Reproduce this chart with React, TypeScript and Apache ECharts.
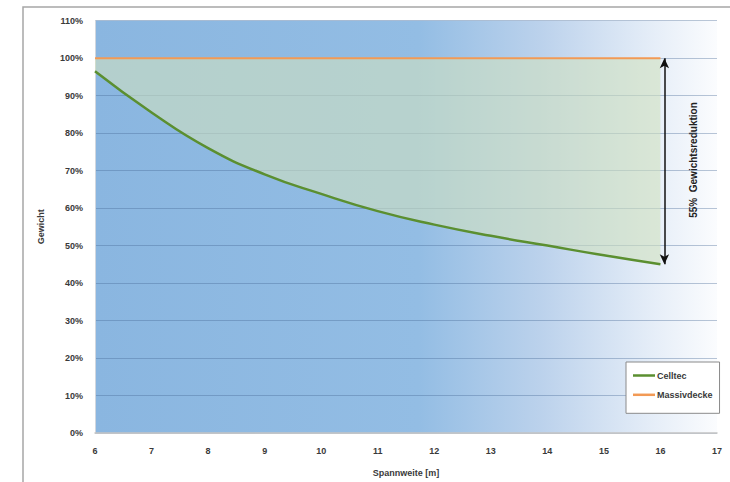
import React, { useEffect, useRef } from "react";
import * as echarts from "echarts";

const spans = [6, 7, 8, 9, 10, 11, 12, 13, 14, 15, 16];
const celltec = [96.5, 85.5, 76, 69, 63.8, 59.2, 55.6, 52.6, 50, 47.4, 45];
const massivdecke = [100, 100, 100, 100, 100, 100, 100, 100, 100, 100, 100];
const yTicks = { min: 0, max: 110, interval: 10 };
const xTicks = { min: 6, max: 17, interval: 1 };
const arrowX = 16.07;
const arrowFrom = 100;
const arrowTo = 45;
const annotation = "55%  Gewichtsreduktion";

const FONT = "Liberation Sans";
const TXT = "#3a3a3a";

export default function App() {
  const ref = useRef<HTMLDivElement>(null);

  useEffect(() => {
    if (!ref.current) return;
    const chart = echarts.init(ref.current, undefined, { renderer: "svg" });
    const pairs = (ys: number[]) => spans.map((x, i) => [x, ys[i]]);

    chart.setOption({
      animation: false,
      backgroundColor: "#ffffff",
      grid: {
        left: 95,
        right: 13,
        top: 20.7,
        bottom: 44.3,
        show: true,
        borderWidth: 0,
        backgroundColor: new echarts.graphic.LinearGradient(0, 0, 1, 0, [
          { offset: 0, color: "#8ab6e0" },
          { offset: 0.52, color: "#93bde4" },
          { offset: 0.72, color: "#bcd2ec" },
          { offset: 0.9, color: "#e6eef8" },
          { offset: 1, color: "#fbfcfe" },
        ]),
      },
      legend: {
        data: [
          { name: "Celltec", icon: "rect" },
          { name: "Massivdecke", icon: "rect" },
        ],
        orient: "vertical",
        left: 626,
        top: 362,
        itemWidth: 22,
        itemHeight: 2.5,
        itemGap: 8.3,
        padding: [8, 7, 13, 7],
        backgroundColor: "#ffffff",
        borderColor: "#8a8a8a",
        borderWidth: 1,
        textStyle: {
          fontFamily: FONT,
          fontSize: 9,
          fontWeight: "bold",
          color: TXT,
          lineHeight: 11,
          padding: [0, 0, 0, -3],
        },
      },
      xAxis: {
        type: "value",
        min: xTicks.min,
        max: xTicks.max,
        interval: xTicks.interval,
        name: "Spannweite [m]",
        nameLocation: "middle",
        nameGap: 35,
        nameTextStyle: { fontFamily: FONT, fontSize: 9, fontWeight: "bold", color: TXT },
        axisLine: { show: true, lineStyle: { color: "#c4c4c4", width: 1.5 } },
        axisTick: { show: false },
        splitLine: { show: false },
        axisLabel: { fontFamily: FONT, fontSize: 9, fontWeight: "bold", color: TXT, margin: 13 },
      },
      yAxis: {
        type: "value",
        min: yTicks.min,
        max: yTicks.max,
        interval: yTicks.interval,
        name: "Gewicht",
        nameLocation: "middle",
        nameGap: 50,
        nameTextStyle: { fontFamily: FONT, fontSize: 9, fontWeight: "bold", color: TXT },
        axisLine: { show: true, lineStyle: { color: "#d0d6de", width: 1 } },
        axisTick: { show: false },
        splitLine: { show: true, lineStyle: { color: "rgba(70,105,150,0.38)", width: 1 } },
        axisLabel: {
          fontFamily: FONT,
          fontSize: 9,
          fontWeight: "bold",
          color: TXT,
          margin: 12,
          formatter: "{value}%",
        },
      },
      graphic: [
        {
          type: "rect",
          silent: true,
          z: -10,
          shape: { x: 23, y: 7, width: 760, height: 520 },
          style: { fill: "none", stroke: "#a6a6a6", lineWidth: 1.5 },
        },
        {
          type: "text",
          x: 693,
          y: 160,
          rotation: Math.PI / 2,
          style: {
            text: annotation,
            fontFamily: FONT,
            fontSize: 10,
            fontWeight: "bold",
            fill: "#222",
            align: "center",
            verticalAlign: "middle",
          },
        },
      ],
      series: [
        {
          name: "Massivdecke",
          type: "line",
          symbol: "none",
          data: pairs(massivdecke),
          color: "#f29a55",
          lineStyle: { color: "#f29a55", width: 2 },
          z: 4,
          markLine: {
            silent: true,
            symbol: ["arrow", "arrow"],
            symbolSize: [7, 10],
            label: { show: false },
            lineStyle: { color: "#111", width: 1.5, type: "solid" },
            data: [[{ coord: [arrowX, arrowFrom] }, { coord: [arrowX, arrowTo] }]],
          },
        },
        {
          name: "Celltec",
          type: "line",
          smooth: true,
          symbol: "none",
          data: pairs(celltec),
          color: "#5b8f30",
          lineStyle: { color: "#5b8f30", width: 2.5 },
          areaStyle: { color: "rgba(208,224,192,0.85)", origin: 100 },
          z: 3,
        },
      ],
    });
    return () => chart.dispose();
  }, []);

  return (
    <div
      ref={ref}
      style={{ position: "fixed", left: 0, top: 0, width: 730, height: 482 }}
    />
  );
}
